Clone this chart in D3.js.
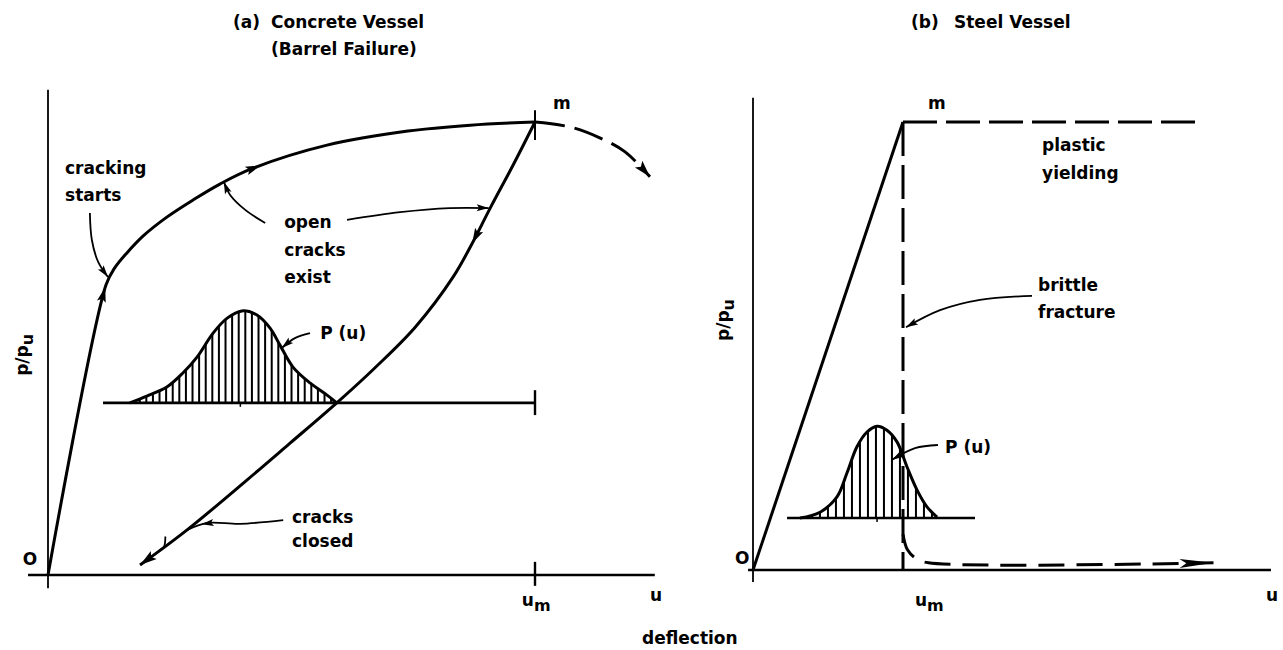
<!DOCTYPE html>
<html>
<head>
<meta charset="utf-8">
<title>Concrete vs Steel Vessel</title>
<script src="https://d3js.org/d3.v7.min.js"></script>
<style>
    body { margin: 0; background: #fff; }
    svg { display: block; font-family: "DejaVu Sans", sans-serif; font-weight: bold; }
    .lbl { font-size: 17px; fill: #000; }
</style>
</head>
<body>
<svg id="chart" width="1283" height="650"></svg>
<script>
// values in units of the peak: u / u_m (deflection) and p / p_u (load)

// (a) concrete vessel
const loadingA = [[0,0],[0.119,0.640],[0.137,0.678],[0.162,0.711],[0.195,0.748],[0.244,0.790],
    [0.298,0.828],[0.353,0.863],[0.421,0.898],[0.573,0.949],[0.739,0.980],[0.867,0.993],[1,1]];
const unloadingA = [[1,1],[0.957,0.909],[0.908,0.810],[0.869,0.728],[0.832,0.658],[0.754,0.547],
    [0.671,0.457],[0.593,0.380],[0.497,0.291],[0.409,0.210],[0.285,0.099],[0.189,0.022]];
const postPeakA = [[1,1],[1.072,0.989],[1.133,0.965],[1.185,0.934],[1.236,0.879]];
const densityA = [[0.168,0.380],[0.203,0.395],[0.244,0.415],[0.277,0.446],[0.306,0.481],[0.339,0.534],
    [0.368,0.567],[0.398,0.583],[0.429,0.574],[0.456,0.545],[0.476,0.508],[0.503,0.459],
    [0.538,0.424],[0.573,0.397],[0.593,0.380]];
const baseA = { from: 0.113, to: 1, level: 0.380, mean: 0.395 };

// (b) steel vessel
const loadingB = [[0,0],[1,1]];
const plasticB = [[1,1],[2.987,1]];
const brittleB = [[1,1],[1,0]];
const postFractureB = [[1,0.080],[1.03,0.045],[1.09,0.025],[1.17,0.016],[3.07,0.016]];
const densityB = [[0.313,0.116],[0.447,0.129],[0.56,0.163],[0.627,0.217],[0.693,0.275],[0.76,0.308],
    [0.827,0.321],[0.893,0.312],[0.96,0.286],[1.027,0.230],[1.093,0.179],[1.16,0.141],[1.227,0.118]];
const baseB = { from: 0.227, to: 1.48, level: 0.116, mean: 0.827 };

// annotation text and leaders
const titlesA = ["(a)", "Concrete Vessel", "(Barrel Failure)"];
const titlesB = ["(b)", "Steel Vessel"];
const xTitle = "deflection";
const labelsA = [
    { t: "cracking", u: 0.035, p: 0.898 }, { t: "starts", u: 0.035, p: 0.839 },
    { t: "open", u: 0.485, p: 0.779 }, { t: "cracks", u: 0.485, p: 0.717 }, { t: "exist", u: 0.485, p: 0.658 },
    { t: "P (u)", u: 0.559, p: 0.534 },
    { t: "cracks", u: 0.501, p: 0.128 }, { t: "closed", u: 0.501, p: 0.075 },
    { t: "m", u: 1.037, p: 1.042 }, { t: "O", u: -0.052, p: 0.035 },
    { t: "u", u: 1.236, p: -0.044 }
];
const labelsB = [
    { t: "m", u: 1.167, p: 1.042 },
    { t: "plastic", u: 1.927, p: 0.949 }, { t: "yielding", u: 1.927, p: 0.886 },
    { t: "brittle", u: 1.9, p: 0.636 }, { t: "fracture", u: 1.9, p: 0.576 },
    { t: "P (u)", u: 1.28, p: 0.275 }, { t: "O", u: -0.12, p: 0.027 },
    { t: "u", u: 3.42, p: -0.056 }
];
const leadersA = [
    [[0.086,0.799],[0.090,0.740],[0.103,0.691],[0.123,0.658]],
    [[0.446,0.777],[0.405,0.806],[0.374,0.839],[0.361,0.868]],
    [[0.614,0.784],[0.723,0.801],[0.825,0.810],[0.905,0.810]],
    [[0.538,0.534],[0.507,0.523],[0.480,0.501]],
    [[0.483,0.121],[0.394,0.113],[0.327,0.115],[0.285,0.099]]
];
const squiggleA = [[0.241,0.085],[0.238,0.062],[0.229,0.055]];
const leadersB = [
    [[1.86,0.612],[1.513,0.603],[1.247,0.580],[1.02,0.542]],
    [[1.233,0.279],[1.08,0.272],[0.927,0.246]]
];

// ---- layout ----
const svg = d3.select('#chart');
svg.append('rect').attr('width', 1283).attr('height', 650).attr('fill', '#fff');

const xA = d3.scaleLinear().domain([0, 1]).range([48, 535]);
const yA = d3.scaleLinear().domain([0, 1]).range([575, 122]);
const xB = d3.scaleLinear().domain([0, 1]).range([753, 903]);
const yB = d3.scaleLinear().domain([0, 1]).range([570, 122]);

const INK = '#000';

function lineGen(x, y) {
    return d3.line().x(d => x(d[0])).y(d => y(d[1])).curve(d3.curveCatmullRom.alpha(0.5));
}

function arrowHead(g, x, y, angle, len, half) {
    const deg = angle * 180 / Math.PI;
    g.append('path')
        .attr('d', `M0,0 L${-len},${-half} L${-len * 0.8},0 L${-len},${half} Z`)
        .attr('transform', `translate(${x},${y}) rotate(${deg})`)
        .attr('fill', INK);
}

// arrow at the end of a path
function endArrow(g, pathNode, len = 15, half = 4.5) {
    const L = pathNode.getTotalLength();
    const a = pathNode.getPointAtLength(L - 4), b = pathNode.getPointAtLength(L);
    arrowHead(g, b.x, b.y, Math.atan2(b.y - a.y, b.x - a.x), len, half);
}

// arrow on a path, near a point given in pixels
function midArrow(g, pathNode, px, py, len = 15, half = 4.5) {
    const L = pathNode.getTotalLength();
    let best = 0, bd = Infinity;
    for (let l = 0; l <= L; l += 1) {
        const pt = pathNode.getPointAtLength(l);
        const d = (pt.x - px) ** 2 + (pt.y - py) ** 2;
        if (d < bd) { bd = d; best = l; }
    }
    const a = pathNode.getPointAtLength(Math.max(0, best - 2));
    const b = pathNode.getPointAtLength(Math.min(L, best + 2));
    const tip = pathNode.getPointAtLength(Math.min(L, best + len / 2));
    arrowHead(g, tip.x, tip.y, Math.atan2(b.y - a.y, b.x - a.x), len, half);
}

function drawPath(g, data, x, y, width, dash) {
    return g.append('path')
        .attr('d', lineGen(x, y)(data))
        .attr('fill', 'none')
        .attr('stroke', INK)
        .attr('stroke-width', width)
        .attr('stroke-dasharray', dash || null)
        .attr('stroke-linecap', 'butt')
        .attr('stroke-linejoin', 'round');
}

function drawLabels(g, labels, x, y) {
    g.selectAll(null).data(labels).join('text')
        .attr('class', 'lbl')
        .attr('x', d => x(d.u))
        .attr('y', d => y(d.p))
        .attr('dy', '0.35em')
        .text(d => d.t);
}

function subLabel(g, x, y, main, sub, rotate) {
    const t = g.append('text').attr('class', 'lbl')
        .attr('x', x).attr('y', y).attr('dy', '0.35em')
        .attr('text-anchor', rotate ? 'middle' : 'start');
    if (rotate) t.attr('transform', `rotate(-90,${x},${y})`);
    t.append('tspan').text(main);
    t.append('tspan').attr('dy', '0.3em').attr('font-size', '16px').text(sub);
}

function density(g, id, data, base, x, y, step) {
    const area = d3.area().x(d => x(d[0])).y0(y(base.level)).y1(d => y(d[1]))
        .curve(d3.curveCatmullRom.alpha(0.5));
    g.append('clipPath').attr('id', id).append('path').attr('d', area(data));
    const x0 = x(data[0][0]), x1 = x(data[data.length - 1][0]);
    const top = d3.min(data, d => y(d[1]));
    g.append('g').attr('clip-path', `url(#${id})`)
        .selectAll('line').data(d3.range(x0 + step / 2, x1, step)).join('line')
        .attr('x1', d => d).attr('x2', d => d)
        .attr('y1', y(base.level)).attr('y2', top - 2)
        .attr('stroke', INK).attr('stroke-width', 2);
    drawPath(g, data, x, y, 3);
    // base line and mean tick
    g.append('line').attr('x1', x(base.from)).attr('x2', x(base.to))
        .attr('y1', y(base.level)).attr('y2', y(base.level))
        .attr('stroke', INK).attr('stroke-width', 2.6);
    g.append('line').attr('x1', x(base.mean)).attr('x2', x(base.mean))
        .attr('y1', y(base.level)).attr('y2', y(base.level) + 4)
        .attr('stroke', INK).attr('stroke-width', 1.5);
}

function axisLines(g, x, y, uMin, uMax, pMin, pMax, wx, wy) {
    g.append('line').attr('x1', x(uMin)).attr('x2', x(uMax)).attr('y1', y(0)).attr('y2', y(0))
        .attr('stroke', INK).attr('stroke-width', wx);
    g.append('line').attr('x1', x(0)).attr('x2', x(0)).attr('y1', y(pMin)).attr('y2', y(pMax))
        .attr('stroke', INK).attr('stroke-width', wy);
}

// ---- panel (a) ----
const gA = svg.append('g');
axisLines(gA, xA, yA, -0.041, 1.246, -0.029, 1.071, 2.4, 1.8);
// u_m ticks
gA.append('line').attr('x1', xA(1)).attr('x2', xA(1)).attr('y1', yA(0.029)).attr('y2', yA(-0.024))
    .attr('stroke', INK).attr('stroke-width', 2.4);
gA.append('line').attr('x1', xA(1)).attr('x2', xA(1)).attr('y1', yA(0.408)).attr('y2', yA(0.353))
    .attr('stroke', INK).attr('stroke-width', 2.4);
gA.append('line').attr('x1', xA(1)).attr('x2', xA(1)).attr('y1', yA(1.026)).attr('y2', yA(0.960))
    .attr('stroke', INK).attr('stroke-width', 2);

density(gA, 'clipA', densityA, baseA, xA, yA, 6.6);

const pLoadA = drawPath(gA, loadingA, xA, yA, 3).node();
const pUnloadA = drawPath(gA, unloadingA, xA, yA, 3).node();
const pPostA = drawPath(gA, postPeakA, xA, yA, 3, '30,10').node();
midArrow(gA, pLoadA, xA(0.112), yA(0.62));
midArrow(gA, pLoadA, xA(0.421), yA(0.898));
midArrow(gA, pUnloadA, xA(0.881), yA(0.745));
endArrow(gA, pUnloadA, 17, 5);
endArrow(gA, pPostA, 17, 5);

leadersA.forEach((l, i) => {
    const n = drawPath(gA, l, xA, yA, 1.8).node();
    if (i === 4) midArrow(gA, n, xA(0.327), yA(0.115), 12, 3.5);
    else endArrow(gA, n, 12, 3.5);
});
drawPath(gA, squiggleA, xA, yA, 1.8);

drawLabels(gA, labelsA, xA, yA);
subLabel(gA, xA(0.973), yA(-0.055), 'u', 'm');
subLabel(gA, xA(-0.053), yA(0.486), 'p/p', 'u', true);

svg.append('text').attr('class', 'lbl').attr('x', 233).attr('y', 22).attr('dy', '0.35em').text(titlesA[0]);
svg.append('text').attr('class', 'lbl').attr('x', 271).attr('y', 22).attr('dy', '0.35em').text(titlesA[1]);
svg.append('text').attr('class', 'lbl').attr('x', 271).attr('y', 49).attr('dy', '0.35em').text(titlesA[2]);

// ---- panel (b) ----
const gB = svg.append('g');
axisLines(gB, xB, yB, -0.033, 3.453, -0.027, 1.054, 2.4, 1.8);

density(gB, 'clipB', densityB, baseB, xB, yB, 8);

drawPath(gB, loadingB, xB, yB, 3);
drawPath(gB, plasticB, xB, yB, 3, '34,9');
drawPath(gB, brittleB, xB, yB, 3, '34,9');
const pPostB = drawPath(gB, postFractureB, xB, yB, 3, '26,12').node();
endArrow(gB, pPostB, 34, 4.5);

leadersB.forEach(l => {
    const n = drawPath(gB, l, xB, yB, 1.8).node();
    endArrow(gB, n, 12, 3.5);
});

drawLabels(gB, labelsB, xB, yB);
subLabel(gB, xB(1.08), yB(-0.067), 'u', 'm');
subLabel(gB, xB(-0.2), yB(0.558), 'p/p', 'u', true);

svg.append('text').attr('class', 'lbl').attr('x', 911).attr('y', 22).attr('dy', '0.35em').text(titlesB[0]);
svg.append('text').attr('class', 'lbl').attr('x', 954).attr('y', 22).attr('dy', '0.35em').text(titlesB[1]);

// shared x label
svg.append('text').attr('class', 'lbl').attr('x', 642).attr('y', 638).attr('dy', '0.35em')
    .text(xTitle);
</script>
</body>
</html>
